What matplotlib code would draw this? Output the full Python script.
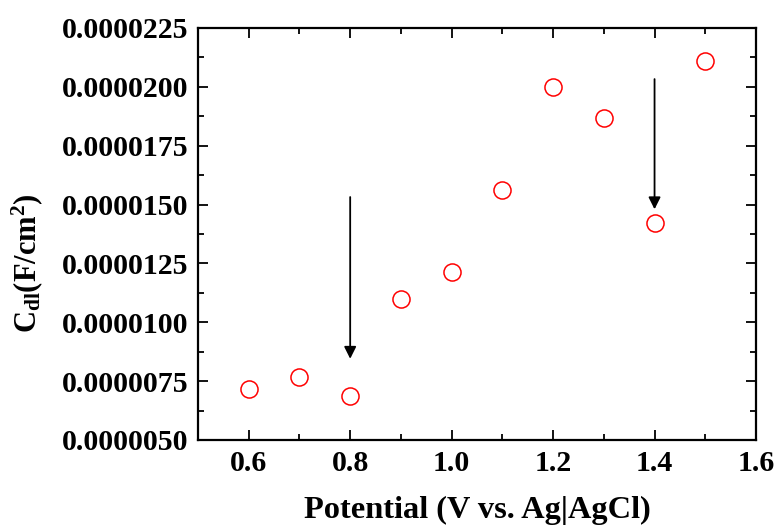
import numpy as np
import matplotlib
matplotlib.use("Agg")
import matplotlib.pyplot as plt
from matplotlib.ticker import MultipleLocator, FormatStrFormatter

# Data
potential = [0.6, 0.7, 0.8, 0.9, 1.0, 1.1, 1.2, 1.3, 1.4, 1.5]
cdl = [7.17e-6, 7.68e-6, 6.88e-6, 1.099e-5, 1.213e-5, 1.562e-5,
       2.0e-5, 1.868e-5, 1.422e-5, 2.11e-5]

# arrows: (x, y_start, y_end)
arrow_x = [0.8, 1.4]
arrow_y0 = [1.532e-5, 2.033e-5]
arrow_y1 = [8.45e-6, 1.48e-5]

plt.rcParams["font.family"] = "Liberation Serif"
plt.rcParams["font.weight"] = "bold"
plt.rcParams["mathtext.fontset"] = "custom"
plt.rcParams["mathtext.rm"] = "Liberation Serif:bold"
plt.rcParams["mathtext.bf"] = "Liberation Serif:bold"
plt.rcParams["mathtext.it"] = "Liberation Serif:bold"

fig = plt.figure(figsize=(7.76, 5.27), dpi=100)
ax = fig.add_axes([198 / 776, 1 - 440 / 527, (756 - 198) / 776, (440 - 28) / 527])

ax.plot(potential, cdl, "o", mfc="none", mec="red", ms=12.3, mew=1.1)

for x, y0, y1 in zip(arrow_x, arrow_y0, arrow_y1):
    ax.annotate("", xy=(x, y1), xytext=(x, y0),
                arrowprops=dict(arrowstyle="-|>", color="black", lw=1.3,
                                mutation_scale=18, shrinkA=0, shrinkB=0))

ax.set_xlim(0.5, 1.6)
ax.set_ylim(5e-6, 2.25e-5)
ax.xaxis.set_major_locator(MultipleLocator(0.2))
ax.xaxis.set_minor_locator(MultipleLocator(0.1))
ax.yaxis.set_major_locator(MultipleLocator(2.5e-6))
ax.yaxis.set_minor_locator(MultipleLocator(1.25e-6))
ax.xaxis.set_major_formatter(FormatStrFormatter("%.1f"))
ax.yaxis.set_major_formatter(FormatStrFormatter("%.7f"))

for s in ax.spines.values():
    s.set_linewidth(1.6)
ax.tick_params(which="both", direction="in", top=True, right=True,
               labelsize=21.5, width=1.3)
ax.tick_params(which="major", length=7, pad=7)
ax.tick_params(which="minor", length=4)

ax.set_xlabel("Potential (V vs. Ag|AgCl)", fontsize=23.3, fontweight="bold",
              labelpad=14)
ax.set_ylabel(r"$\mathrm{C_{dl}(F/cm^2)}$", fontsize=22)
ax.yaxis.set_label_coords(-0.275, 0.43)

fig.savefig("out.png", dpi=100)
